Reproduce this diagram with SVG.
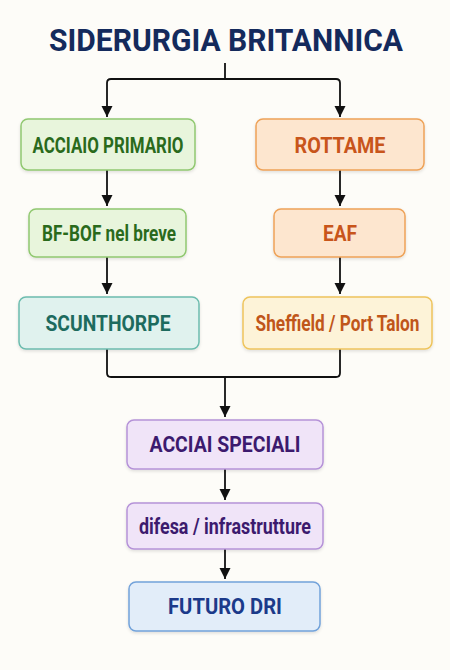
<svg xmlns="http://www.w3.org/2000/svg" width="450" height="670" viewBox="0 0 450 670">
<defs>
<marker id="ah" markerWidth="12" markerHeight="12" refX="11" refY="6" orient="auto" markerUnits="userSpaceOnUse">
<path d="M0,0.5 L11,6 L0,11.5 Z" fill="#111"/>
</marker>
<filter id="sh" x="-10%" y="-10%" width="120%" height="130%">
<feDropShadow dx="0" dy="1.5" stdDeviation="1.5" flood-color="#000" flood-opacity="0.12"/>
</filter>
</defs>
<style>
text{font-family:Roboto,"Liberation Sans",sans-serif;font-weight:700;text-anchor:middle}
.t{font-size:22px}
rect{stroke-width:1.5;filter:url(#sh)}
.c path,.c line{fill:none;stroke:#111;stroke-width:1.8}
.g rect{fill:#e8f5dc;stroke:#90c870}.g text{fill:#2a6a1c}
.tl rect{fill:#e0f2ee;stroke:#6cbcae}.tl text{fill:#1d6b5e}
.o rect{fill:#fde6cf;stroke:#eea258}.o text{fill:#c8551b}
.y rect{fill:#fdf3d8;stroke:#eec45c}.y text{fill:#c0561a}
.p rect{fill:#f0e4f8;stroke:#b592d8}.p text{fill:#3c1a6e}
.b rect{fill:#e2edf9;stroke:#72a2da}.b text{fill:#1b3a8a}
</style>
<rect x="0" y="0" width="450" height="670" fill="#fdfcf8" style="filter:none;stroke:none"/>
<g id="title"><text x="226" y="51" font-size="31" fill="#142a5c" textLength="354" lengthAdjust="spacingAndGlyphs">SIDERURGIA BRITANNICA</text></g>
<g class="c" id="connectors">
<path d="M225,63 V79 H111 Q107,79 107,83 V117" marker-end="url(#ah)"/>
<path d="M225,79 H336 Q340,79 340,83 V117" marker-end="url(#ah)"/>
<line x1="107" y1="170" x2="107" y2="206" marker-end="url(#ah)"/>
<line x1="107" y1="257" x2="107" y2="294" marker-end="url(#ah)"/>
<line x1="340" y1="170" x2="340" y2="206" marker-end="url(#ah)"/>
<line x1="340" y1="257" x2="340" y2="294" marker-end="url(#ah)"/>
<path d="M107,349 V373 Q107,377 111,377 H336 Q340,377 340,373 V349"/>
<line x1="225" y1="377" x2="225" y2="417" marker-end="url(#ah)"/>
<line x1="225" y1="469" x2="225" y2="500" marker-end="url(#ah)"/>
<line x1="225" y1="549" x2="225" y2="579" marker-end="url(#ah)"/>
</g>
<g id="acciaio-primario" class="g"><rect x="21" y="119" width="174" height="51" rx="7"/><text class="t" x="108" y="153" textLength="151" lengthAdjust="spacingAndGlyphs">ACCIAIO PRIMARIO</text></g>
<g id="bf-bof" class="g"><rect x="29" y="209" width="157" height="48" rx="7"/><text class="t" x="109" y="241" textLength="134" lengthAdjust="spacingAndGlyphs">BF-BOF nel breve</text></g>
<g id="scunthorpe" class="tl"><rect x="19" y="297" width="180" height="52" rx="7"/><text class="t" x="108" y="331" textLength="125" lengthAdjust="spacingAndGlyphs">SCUNTHORPE</text></g>
<g id="rottame" class="o"><rect x="256" y="119" width="168" height="51" rx="7"/><text class="t" x="340" y="153" textLength="91" lengthAdjust="spacingAndGlyphs">ROTTAME</text></g>
<g id="eaf" class="o"><rect x="274" y="209" width="131" height="48" rx="7"/><text class="t" x="340" y="241" textLength="34" lengthAdjust="spacingAndGlyphs">EAF</text></g>
<g id="sheffield" class="y"><rect x="243" y="297" width="189" height="52" rx="7"/><text class="t" transform="translate(337.5,331) scale(0.78,1)" x="0" y="0" font-size="21" textLength="210" lengthAdjust="spacingAndGlyphs">Sheffield / Port Talon</text></g>
<g id="acciai-speciali" class="p"><rect x="127" y="420" width="196" height="49" rx="7"/><text class="t" x="225" y="452" textLength="151" lengthAdjust="spacingAndGlyphs">ACCIAI SPECIALI</text></g>
<g id="difesa" class="p"><rect x="127" y="503" width="196" height="46" rx="7"/><text class="t" x="225" y="534" textLength="172" lengthAdjust="spacingAndGlyphs">difesa / infrastrutture</text></g>
<g id="futuro-dri" class="b"><rect x="129" y="582" width="191" height="49" rx="7"/><text class="t" x="225" y="614" textLength="114" lengthAdjust="spacingAndGlyphs">FUTURO DRI</text></g>
</svg>
